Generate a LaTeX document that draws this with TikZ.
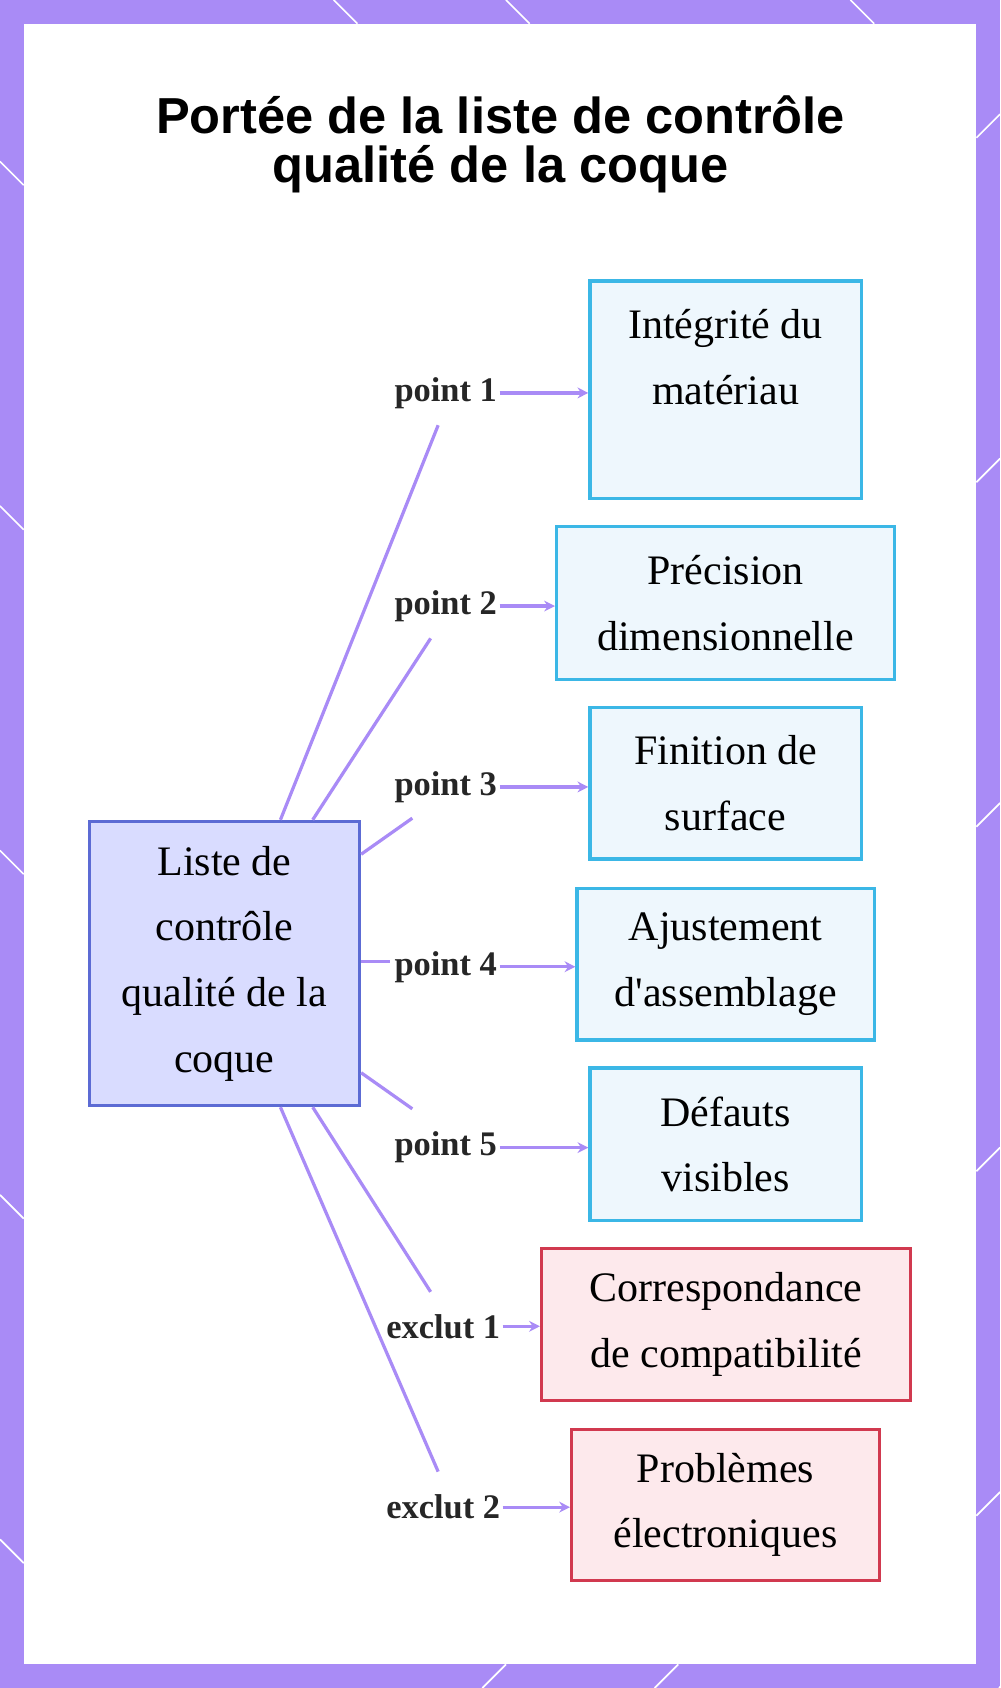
\documentclass[tikz,border=0pt]{standalone}
\usepackage{fontspec}
\setmainfont{Liberation Serif}
\newfontfamily\titlefont{Liberation Sans}
\usetikzlibrary{arrows.meta}
\definecolor{purp}{HTML}{A98BF6}
\definecolor{mainfill}{HTML}{D9DCFF}
\definecolor{maindraw}{HTML}{5C6BD4}
\definecolor{bfill}{HTML}{EEF7FD}
\definecolor{bdraw}{HTML}{3BB7E6}
\definecolor{rfill}{HTML}{FDE9EC}
\definecolor{rdraw}{HTML}{D1394F}
\begin{document}
\begin{tikzpicture}[x=0.5pt,y=-0.5pt,
  inbox/.style={draw=bdraw,fill=bfill,line width=1.5pt},
  exbox/.style={draw=rdraw,fill=rfill,line width=1.5pt},
  btxt/.style={font=\fontsize{19.5}{30.5}\selectfont,align=center},
  lab/.style={font=\fontsize{16}{18}\selectfont\bfseries,text=black!85,inner sep=1pt},
  conn/.style={draw=purp,line width=1.5pt},
  arr/.style={conn,-{Stealth[length=5pt,width=5pt]}}]
\useasboundingbox (0,0) rectangle (929,1568);
\fill[purp] (0,0) rectangle (929,1568);
\fill[white] (22,22) rectangle (907,1546);
\foreach \y in {150,470,790,1110,1430}{
  \draw[white,line width=0.8pt] (0,\y) -- (22,\y+22);
  \draw[white,line width=0.8pt] (907,\y-22) -- (929,\y-44);}
\foreach \x in {310,470,790}{
  \draw[white,line width=0.8pt] (\x,0) -- (\x+22,22);
  \draw[white,line width=0.8pt] (\x+160,1546) -- (\x+138,1568);}
\node[font=\titlefont\bfseries\fontsize{23.5}{23}\selectfont,align=center] (title) at (465,134) {Portée de la liste de contrôle\\qualité de la coque};
% main
\node[draw=maindraw,fill=mainfill,line width=1.5pt,minimum width=125.5pt,minimum height=132pt,btxt] (main) at (208.5,895) {Liste de\\contrôle\\qualité de la\\coque};
% boxes
\node[inbox,minimum width=126pt,minimum height=101pt] (b1) at (674,362) {};
\node[btxt] (t1) at (674,332) {Intégrité du\\matériau};
\node[inbox,btxt,minimum width=157pt,minimum height=71pt] (b2) at (674,560) {Précision\\dimensionnelle};
\node[inbox,btxt,minimum width=126pt,minimum height=70.5pt] (b3) at (674,727.5) {Finition de\\surface};
\node[inbox,btxt,minimum width=138pt,minimum height=70.5pt] (b4) at (674,895.5) {Ajustement\\d\textquotesingle assemblage};
\node[inbox,btxt,minimum width=126pt,minimum height=71pt] (b5) at (674,1063) {Défauts\\visibles};
\node[exbox,btxt,minimum width=171.5pt,minimum height=70.5pt] (e1) at (674.5,1230.5) {Correspondance\\de compatibilité};
\node[exbox,btxt,minimum width=143pt,minimum height=70pt] (e2) at (674,1398) {Problèmes\\électroniques};
% labels
\node[lab,anchor=east] (l1) at (464,365) {point 1};
\node[lab,anchor=east] (l2) at (464,563) {point 2};
\node[lab,anchor=east] (l3) at (464,731) {point 3};
\node[lab,anchor=east] (l4) at (464,898) {point 4};
\node[lab,anchor=east] (l5) at (464,1066) {point 5};
\node[lab,anchor=east] (l6) at (467,1232) {exclut 1};
\node[lab,anchor=east] (l7) at (467,1400) {exclut 2};
\coordinate (c1) at (407,395); \coordinate (c2) at (400,593);
\coordinate (c3) at (383,760); \coordinate (c4) at (362,893);
\coordinate (c5) at (383,1030); \coordinate (c6) at (400,1200);
\coordinate (c7) at (407,1367);
\draw[conn] (main.north west) ++(179,0) -- (c1);
\draw[conn] (main.north west) ++(209,0) -- (c2);
\draw[conn] (main.north east) ++(0,32) -- (c3);
\draw[conn] (main.east) ++(0,-2) -- (c4);
\draw[conn] (main.south east) ++(0,-32) -- (c5);
\draw[conn] (main.south west) ++(209,0) -- (c6);
\draw[conn] (main.south west) ++(179,0) -- (c7);
\draw[arr] (l1.east) -- (b1.west |- l1.east);
\draw[arr] (l2.east) -- (b2.west |- l2.east);
\draw[arr] (l3.east) -- (b3.west |- l3.east);
\draw[arr] (l4.east) -- (b4.west |- l4.east);
\draw[arr] (l5.east) -- (b5.west |- l5.east);
\draw[arr] (l6.east) -- (e1.west |- l6.east);
\draw[arr] (l7.east) -- (e2.west |- l7.east);
\end{tikzpicture}
\end{document}
